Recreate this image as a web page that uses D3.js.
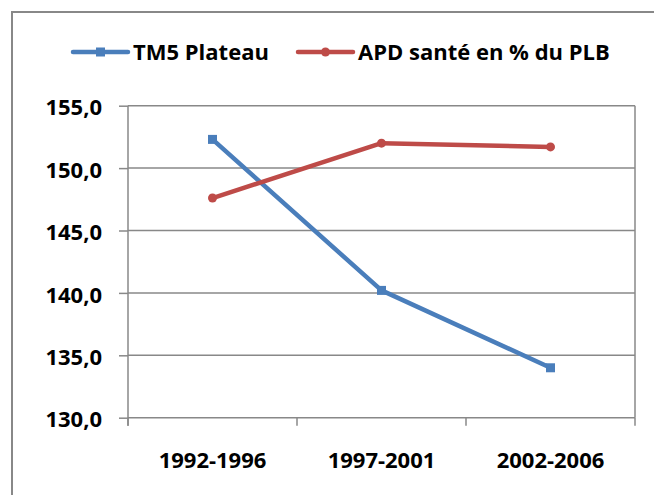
<!DOCTYPE html>
<html>
<head>
<meta charset="utf-8">
<script src="https://cdn.jsdelivr.net/npm/d3@7"></script>
<style>
  body { margin: 0; background: #fff; }
  text { font-family: "Open Sans", "Noto Sans", sans-serif; font-weight: 700; fill: #000; }
</style>
</head>
<body>
<div id="chart"></div>
<script>
// data
var categories = ["1992-1996", "1997-2001", "2002-2006"];
var tm5 = [152.3, 140.2, 134.0];
var apd = [147.6, 152.0, 151.7];
var yTicks = [130, 135, 140, 145, 150, 155];
var seriesNames = ["TM5 Plateau", "APD santé en % du PLB"];

var W = 654, H = 495;
var blue = "#4a7ebb", red = "#be4b48", grid = "#888888";
var fontSize = 22;

var svg = d3.select("#chart").append("svg").attr("width", W).attr("height", H);

// outer chart frame (right and bottom run off the picture)
svg.append("rect").attr("x", 12).attr("y", 12).attr("width", 700).attr("height", 560)
  .attr("fill", "none").attr("stroke", grid).attr("stroke-width", 2);

var plotL = 128, plotR = 635, plotT = 105.7, plotB = 417.7;
var x = d3.scaleBand().domain(categories).range([plotL, plotR]);
var y = d3.scaleLinear().domain([130, 155]).range([plotB, plotT]);
var cx = function(c) { return x(c) + x.bandwidth() / 2; };

// horizontal gridlines
svg.append("g").selectAll("line").data(yTicks).enter().append("line")
  .attr("x1", plotL).attr("x2", plotR)
  .attr("y1", function(d) { return y(d); }).attr("y2", function(d) { return y(d); })
  .attr("stroke", grid).attr("stroke-width", 1.5);
// right edge of plot area
svg.append("line").attr("x1", plotR).attr("x2", plotR).attr("y1", plotT).attr("y2", plotB)
  .attr("stroke", grid).attr("stroke-width", 1.5);

// y axis
var yAxis = svg.append("g").attr("transform", "translate(" + plotL + ",0)")
  .call(d3.axisLeft(y).tickValues(yTicks).tickSize(9).tickPadding(17)
    .tickFormat(function(d) { return d3.format(".1f")(d).replace(".", ","); }));
yAxis.select(".domain").attr("stroke", grid).attr("stroke-width", 1.5)
  .attr("d", "M0," + plotT + "V" + (plotB + 8));
yAxis.selectAll(".tick line").attr("stroke", grid).attr("stroke-width", 1.5);
yAxis.selectAll(".tick text").attr("font-size", fontSize).attr("dy", "0.42em")
  .style("font-family", "'Open Sans', sans-serif").style("font-weight", 700).attr("fill", "#000");

// x axis: ticks between categories
var xEdges = categories.map(function(c) { return x(c); }).concat([plotR]);
svg.append("g").selectAll("line").data(xEdges).enter().append("line")
  .attr("x1", function(d) { return d; }).attr("x2", function(d) { return d; })
  .attr("y1", plotB).attr("y2", plotB + 8)
  .attr("stroke", grid).attr("stroke-width", 1.5);
svg.append("g").selectAll("text").data(categories).enter().append("text")
  .attr("x", cx).attr("y", 460).attr("dy", "0.35em").attr("text-anchor", "middle")
  .attr("font-size", fontSize).text(function(d) { return d; });

// series lines
var line = d3.line().x(function(d, i) { return cx(categories[i]); }).y(function(d) { return y(d); });
svg.append("path").datum(tm5).attr("d", line).attr("fill", "none")
  .attr("stroke", blue).attr("stroke-width", 4.5).attr("stroke-linejoin", "round");
svg.append("path").datum(apd).attr("d", line).attr("fill", "none")
  .attr("stroke", red).attr("stroke-width", 4.5).attr("stroke-linejoin", "round");

svg.append("g").selectAll("rect").data(tm5).enter().append("rect")
  .attr("x", function(d, i) { return cx(categories[i]) - 4.5; })
  .attr("y", function(d) { return y(d) - 4.5; })
  .attr("width", 9).attr("height", 9).attr("fill", blue);
svg.append("g").selectAll("circle").data(apd).enter().append("circle")
  .attr("cx", function(d, i) { return cx(categories[i]); })
  .attr("cy", function(d) { return y(d); })
  .attr("r", 4.5).attr("fill", red);

// legend
var legend = svg.append("g");
var legX = [73, 298];
seriesNames.forEach(function(name, i) {
  var g = legend.append("g").attr("transform", "translate(" + legX[i] + ",52)");
  g.append("line").attr("x1", 0).attr("x2", 55).attr("y1", 0).attr("y2", 0)
    .attr("stroke", i === 0 ? blue : red).attr("stroke-width", 4.5).attr("stroke-linecap", "round");
  if (i === 0) {
    g.append("rect").attr("x", 23).attr("y", -4.5).attr("width", 9).attr("height", 9).attr("fill", blue);
  } else {
    g.append("circle").attr("cx", 27.5).attr("cy", 0).attr("r", 4.5).attr("fill", red);
  }
  g.append("text").attr("x", 60).attr("y", 0).attr("dy", "0.36em").attr("font-size", fontSize).text(name);
});
</script>
</body>
</html>
